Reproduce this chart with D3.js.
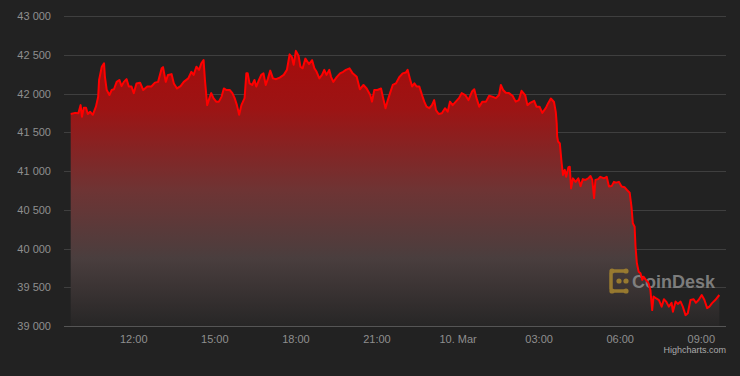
<!DOCTYPE html>
<html lang="en">
<head>
  <meta charset="UTF-8">
  <title>BTC price, 24h</title>
  <script src="https://d3js.org/d3.v7.min.js"></script>
  <style>
    html, body { margin: 0; padding: 0; background: #222222; }
    svg { display: block; font-family: "Liberation Sans", Arial, Helvetica, sans-serif; }
    .grid line { stroke: #3f3f3f; stroke-width: 1; }
    .ylab { fill: #8f8f8f; font-size: 11px; }
    .xlab { fill: #8f8f8f; font-size: 11px; }
    .credit { fill: #aaaaaa; font-size: 9px; }
  </style>
</head>
<body>
<div id="chart"></div>
<script>
  // price data: minutes after the start time, and price in USD
  const startTime = "2022-03-09T09:40";
  const minutesFromStart = [
    0, 10, 17, 22, 25, 29, 34, 38, 43, 49, 56, 61, 63, 69, 74, 76, 80, 86, 91, 96,
    102, 108, 113, 118, 124, 129, 135, 140, 146, 154, 161, 170, 179, 187, 194, 202, 205, 211, 216, 224,
    229, 236, 244, 251, 261, 268, 273, 279, 285, 290, 295, 298, 303, 309, 312, 317, 323, 329, 335, 340,
    346, 353, 359, 364, 369, 374, 379, 386, 390, 393, 397, 403, 408, 412, 418, 423, 428, 433, 438, 443,
    449, 456, 464, 473, 480, 486, 491, 495, 500, 506, 510, 515, 521, 529, 536, 541, 546, 552, 558, 563,
    568, 574, 578, 583, 591, 598, 605, 611, 619, 626, 635, 642, 650, 657, 665, 669, 674, 681, 689, 693,
    699, 704, 709, 715, 722, 730, 737, 744, 748, 753, 758, 763, 768, 774, 780, 785, 790, 796, 802, 807,
    811, 817, 824, 831, 837, 842, 848, 855, 862, 868, 876, 883, 891, 896, 901, 907, 914, 922, 929, 936,
    944, 951, 955, 960, 966, 973, 981, 988, 995, 1001, 1009, 1014, 1019, 1029, 1034, 1041, 1047, 1055, 1060, 1066,
    1073, 1077, 1079, 1080, 1082, 1086, 1090, 1093, 1097, 1100, 1105, 1108, 1111, 1115, 1121, 1127, 1132, 1137, 1143, 1149,
    1154, 1158, 1162, 1165, 1171, 1176, 1184, 1190, 1195, 1201, 1206, 1211, 1217, 1223, 1230, 1235, 1241, 1245, 1248, 1252,
    1254, 1257, 1261, 1265, 1269, 1272, 1277, 1283, 1287, 1291, 1294, 1300, 1306, 1312, 1317, 1322, 1328, 1334, 1337, 1343,
    1348, 1354, 1359, 1365, 1370, 1376, 1383, 1388, 1394, 1401, 1407, 1413, 1418, 1424, 1431, 1440
  ];
  const prices = [
    41735, 41750, 41745, 41850, 41700, 41815, 41815, 41735, 41765, 41725, 41830, 41960, 42175, 42345, 42390, 42215, 42045, 41980, 42045, 42055,
    42150, 42175, 42095, 42150, 42185, 42090, 42090, 42005, 42130, 42140, 42045, 42090, 42090, 42140, 42150, 42325, 42340, 42150, 42240, 42250,
    42130, 42065, 42095, 42150, 42195, 42280, 42240, 42345, 42305, 42390, 42430, 42175, 41850, 41960, 42005, 41940, 41895, 41895, 41960, 42065,
    42045, 42045, 42005, 41940, 41850, 41725, 41850, 41940, 42260, 42260, 42130, 42110, 42175, 42090, 42175, 42240, 42260, 42110, 42195, 42295,
    42195, 42185, 42205, 42240, 42305, 42505, 42470, 42370, 42550, 42485, 42345, 42325, 42450, 42380, 42430, 42325, 42280, 42195, 42240, 42305,
    42240, 42305, 42215, 42150, 42215, 42260, 42280, 42305, 42325, 42260, 42215, 42055, 42110, 42065, 41980, 41895, 42045, 42045, 42065, 41960,
    41810, 41915, 42005, 42110, 42130, 42215, 42260, 42270, 42305, 42195, 42090, 42130, 42090, 42090, 41980, 41895, 41830, 41810, 41850, 41915,
    41785, 41735, 41745, 41810, 41765, 41895, 41850, 41895, 41940, 42005, 41980, 41915, 42025, 42055, 41940, 41830, 41895, 41895, 41970, 41960,
    41940, 41980, 42110, 42045, 42010, 42005, 41970, 41895, 41915, 42035, 41980, 41850, 41875, 41905, 41830, 41830, 41750, 41815, 41875, 41935,
    41890, 41760, 41615, 41445, 41380, 41355, 41100, 40950, 41015, 40925, 41050, 41055, 40775, 40905, 40860, 40905, 40805, 40895, 40885, 40905,
    40935, 40885, 40650, 40885, 40895, 40925, 40905, 40925, 40800, 40805, 40860, 40850, 40860, 40800, 40790, 40755, 40720, 40540, 40325, 40280,
    40025, 39810, 39700, 39680, 39595, 39635, 39595, 39550, 39465, 39205, 39380, 39355, 39335, 39250, 39345, 39315, 39250, 39300, 39185, 39315,
    39285, 39315, 39250, 39140, 39165, 39335, 39345, 39300, 39335, 39400, 39335, 39230, 39250, 39295, 39335, 39400
  ];
  const yTicks = [39000, 39500, 40000, 40500, 41000, 41500, 42000, 42500, 43000];
  const xTickTimes = ["2022-03-09T12:00", "2022-03-09T15:00", "2022-03-09T18:00", "2022-03-09T21:00",
                      "2022-03-10T00:00", "2022-03-10T03:00", "2022-03-10T06:00", "2022-03-10T09:00"];

  const width = 740, height = 376;
  const plotLeft = 64, plotRight = 726, plotTop = 16, plotBottom = 326;
  const padX = 6.7; // series padding inside the plot area

  const parse = d3.timeParse("%Y-%m-%dT%H:%M");
  const t0 = parse(startTime);
  const data = minutesFromStart.map((m, i) => ({ t: d3.timeMinute.offset(t0, m), v: prices[i] }));

  const x = d3.scaleTime()
    .domain([t0, d3.timeMinute.offset(t0, 1440)])
    .range([plotLeft + padX, plotRight - padX]);
  const y = d3.scaleLinear().domain([39000, 43000]).range([plotBottom, plotTop]);

  const svg = d3.select("#chart").append("svg")
    .attr("width", width)
    .attr("height", height);

  svg.append("rect").attr("width", width).attr("height", height).attr("fill", "#222222");

  // area gradient
  const defs = svg.append("defs");
  const grad = defs.append("linearGradient")
    .attr("id", "areaFill")
    .attr("gradientUnits", "userSpaceOnUse")
    .attr("x1", 0).attr("x2", 0)
    .attr("y1", y(42500)).attr("y2", plotBottom);
  grad.append("stop").attr("offset", 0).attr("stop-color", "#a50c0c");
  grad.append("stop").attr("offset", 0.2).attr("stop-color", "#9c1414");
  grad.append("stop").attr("offset", 0.5).attr("stop-color", "#6e3434");
  grad.append("stop").attr("offset", 0.75).attr("stop-color", "#4a3e3e");
  grad.append("stop").attr("offset", 1).attr("stop-color", "#272626");

  // horizontal grid lines
  const grid = svg.append("g").attr("class", "grid");
  grid.selectAll("line")
    .data(yTicks)
    .enter()
    .append("line")
    .attr("x1", plotLeft)
    .attr("x2", plotRight)
    .attr("y1", d => Math.round(y(d)) + 0.5)
    .attr("y2", d => Math.round(y(d)) + 0.5);

  // area + line
  const area = d3.area()
    .x(d => x(d.t))
    .y0(plotBottom)
    .y1(d => y(d.v));
  const line = d3.line()
    .x(d => x(d.t))
    .y(d => y(d.v));

  svg.append("path")
    .datum(data)
    .attr("d", area)
    .attr("fill", "url(#areaFill)");

  // watermark
  const wm = svg.append("g").attr("opacity", 0.85);
  const logoX = 609, logoY = 270;
  wm.append("path")
    .attr("d", `M${logoX + 4},${logoY + 1} h12 M${logoX + 2},${logoY + 3} v16 M${logoX + 4},${logoY + 21} h12`)
    .attr("stroke", "#a8862f").attr("stroke-width", 3.5).attr("fill", "none").attr("stroke-linecap", "round");
  wm.selectAll("circle.dot")
    .data([[3, 1], [17, 1], [3, 21], [17, 21], [17, 11], [10, 11]])
    .enter().append("circle")
    .attr("cx", d => logoX + d[0]).attr("cy", d => logoY + d[1])
    .attr("r", 2.6).attr("fill", "#a8862f");
  wm.append("text")
    .attr("x", 632).attr("y", 288)
    .attr("font-size", "18px").attr("font-weight", "bold")
    .attr("fill", "#8c8c8c")
    .text("CoinDesk");

  svg.append("path")
    .datum(data)
    .attr("d", line)
    .attr("fill", "none")
    .attr("stroke", "#ff0000")
    .attr("stroke-width", 2)
    .attr("stroke-linejoin", "round");

  // axis line at the bottom
  svg.append("line")
    .attr("x1", plotLeft).attr("x2", plotRight)
    .attr("y1", plotBottom + 0.5).attr("y2", plotBottom + 0.5)
    .attr("stroke", "#555555");

  // y labels
  const fmt = d3.formatLocale({ decimal: ".", thousands: " ", grouping: [3], currency: ["", ""] }).format(",");
  svg.append("g").selectAll("text")
    .data(yTicks)
    .enter()
    .append("text")
    .attr("class", "ylab")
    .attr("x", 51)
    .attr("y", d => y(d) + 4)
    .attr("text-anchor", "end")
    .text(d => fmt(d));

  // x labels
  const xfmt = d => (d.getHours() === 0 && d.getMinutes() === 0) ? d3.timeFormat("%-d. %b")(d) : d3.timeFormat("%H:%M")(d);
  svg.append("g").selectAll("text")
    .data(xTickTimes.map(parse))
    .enter()
    .append("text")
    .attr("class", "xlab")
    .attr("x", d => x(d))
    .attr("y", 343)
    .attr("text-anchor", "middle")
    .text(d => xfmt(d));

  svg.append("text")
    .attr("class", "credit")
    .attr("x", 726)
    .attr("y", 353)
    .attr("text-anchor", "end")
    .text("Highcharts.com");
</script>
</body>
</html>
